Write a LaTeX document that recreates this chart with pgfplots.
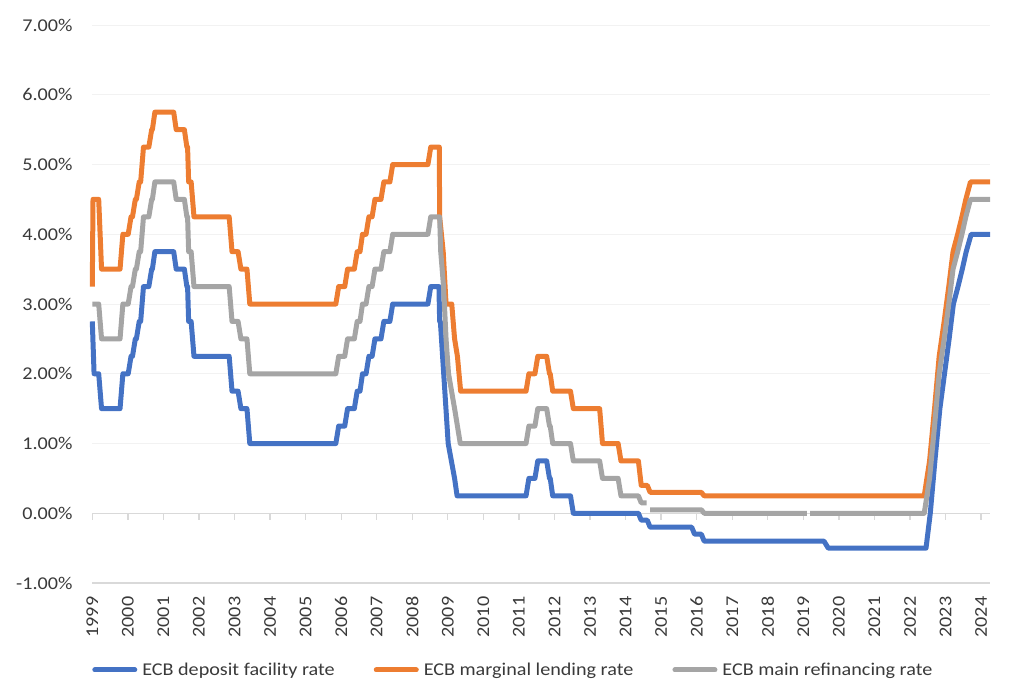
\documentclass[border=0pt]{standalone}
\usepackage{fontspec}
\setmainfont{Carlito}[FakeStretch=1.12]
\usepackage{pgfplots}
\usepackage{pgfplotstable}
\pgfplotsset{compat=1.18}

\definecolor{dfblue}{HTML}{4472C4}
\definecolor{mlforange}{HTML}{ED7D31}
\definecolor{mrogray}{HTML}{A5A5A5}
\definecolor{axisgray}{HTML}{D9D9D9}
\definecolor{txt}{HTML}{3A3A3A}

% deposit facility rate
\pgfplotstableread{
x y
1999.00 2.75
1999.05 2.00
1999.18 2.00
1999.26 1.50
1999.78 1.50
1999.86 2.00
2000.01 2.00
2000.09 2.25
2000.13 2.25
2000.21 2.50
2000.24 2.50
2000.32 2.75
2000.36 2.75
2000.44 3.25
2000.59 3.25
2000.67 3.50
2000.69 3.50
2000.76 3.75
2001.29 3.75
2001.36 3.50
2001.59 3.50
2001.66 3.25
2001.68 3.25
2001.71 2.75
2001.78 2.75
2001.86 2.25
2002.85 2.25
2002.93 1.75
2003.10 1.75
2003.18 1.50
2003.35 1.50
2003.43 1.00
2005.85 1.00
2005.93 1.25
2006.10 1.25
2006.18 1.50
2006.37 1.50
2006.45 1.75
2006.53 1.75
2006.60 2.00
2006.70 2.00
2006.78 2.25
2006.87 2.25
2006.95 2.50
2007.12 2.50
2007.20 2.75
2007.37 2.75
2007.45 3.00
2008.44 3.00
2008.52 3.25
2008.75 3.25
2008.77 2.75
2008.79 2.75
2009.01 1.00
2009.19 0.50
2009.26 0.25
2011.20 0.25
2011.28 0.50
2011.45 0.50
2011.53 0.75
2011.78 0.75
2011.86 0.50
2011.88 0.50
2011.95 0.25
2012.45 0.25
2012.53 0.00
2014.36 0.00
2014.44 -0.10
2014.61 -0.10
2014.69 -0.20
2015.86 -0.20
2015.94 -0.30
2016.13 -0.30
2016.21 -0.40
2019.58 -0.40
2019.70 -0.50
2022.45 -0.50
2022.57 0.00
2022.70 0.75
2022.84 1.50
2022.97 2.00
2023.10 2.50
2023.22 3.00
2023.35 3.25
2023.47 3.50
2023.58 3.75
2023.72 4.00
2024.25 4.00
}\dfrate

% marginal lending rate
\pgfplotstableread{
x y
1999.00 3.25
1999.02 4.50
1999.18 4.50
1999.26 3.50
1999.78 3.50
1999.86 4.00
2000.01 4.00
2000.09 4.25
2000.13 4.25
2000.21 4.50
2000.24 4.50
2000.32 4.75
2000.36 4.75
2000.44 5.25
2000.59 5.25
2000.67 5.50
2000.69 5.50
2000.76 5.75
2001.29 5.75
2001.36 5.50
2001.59 5.50
2001.66 5.25
2001.68 5.25
2001.71 4.75
2001.78 4.75
2001.86 4.25
2002.85 4.25
2002.93 3.75
2003.10 3.75
2003.18 3.50
2003.35 3.50
2003.43 3.00
2005.85 3.00
2005.93 3.25
2006.10 3.25
2006.18 3.50
2006.37 3.50
2006.45 3.75
2006.53 3.75
2006.60 4.00
2006.70 4.00
2006.78 4.25
2006.87 4.25
2006.95 4.50
2007.12 4.50
2007.20 4.75
2007.37 4.75
2007.45 5.00
2008.44 5.00
2008.52 5.25
2008.76 5.25
2008.77 4.25
2008.87 3.75
2008.95 3.00
2009.11 3.00
2009.19 2.50
2009.27 2.25
2009.36 1.75
2011.20 1.75
2011.28 2.00
2011.45 2.00
2011.53 2.25
2011.78 2.25
2011.86 2.00
2011.88 2.00
2011.95 1.75
2012.45 1.75
2012.53 1.50
2013.27 1.50
2013.35 1.00
2013.79 1.00
2013.87 0.75
2014.36 0.75
2014.44 0.40
2014.61 0.40
2014.69 0.30
2016.13 0.30
2016.21 0.25
2022.40 0.25
2022.55 0.75
2022.69 1.50
2022.82 2.25
2022.96 2.75
2023.09 3.25
2023.21 3.75
2023.34 4.00
2023.46 4.25
2023.57 4.50
2023.70 4.75
2024.25 4.75
}\mlfrate

% main refinancing rate
\pgfplotstableread{
x y
1999.00 3.00
1999.18 3.00
1999.26 2.50
1999.78 2.50
1999.86 3.00
2000.01 3.00
2000.09 3.25
2000.13 3.25
2000.21 3.50
2000.24 3.50
2000.32 3.75
2000.36 3.75
2000.44 4.25
2000.59 4.25
2000.67 4.50
2000.69 4.50
2000.76 4.75
2001.29 4.75
2001.36 4.50
2001.59 4.50
2001.66 4.25
2001.68 4.25
2001.71 3.75
2001.78 3.75
2001.86 3.25
2002.85 3.25
2002.93 2.75
2003.10 2.75
2003.18 2.50
2003.35 2.50
2003.43 2.00
2005.85 2.00
2005.93 2.25
2006.10 2.25
2006.18 2.50
2006.37 2.50
2006.45 2.75
2006.53 2.75
2006.60 3.00
2006.70 3.00
2006.78 3.25
2006.87 3.25
2006.95 3.50
2007.12 3.50
2007.20 3.75
2007.37 3.75
2007.45 4.00
2008.44 4.00
2008.52 4.25
2008.77 4.25
2008.80 3.75
2008.88 3.25
2008.95 2.50
2009.02 2.00
2009.19 1.50
2009.27 1.25
2009.35 1.00
2011.20 1.00
2011.28 1.25
2011.45 1.25
2011.53 1.50
2011.78 1.50
2011.86 1.25
2011.88 1.25
2011.95 1.00
2012.45 1.00
2012.53 0.75
2013.27 0.75
2013.35 0.50
2013.79 0.50
2013.87 0.25
2014.36 0.25
2014.44 0.15
2014.59 0.15
2014.64 nan
2014.69 0.05
2016.13 0.05
2016.21 0.00
2019.10 0.00
2019.14 nan
2019.19 0.00
2022.40 0.00
2022.55 0.50
2022.69 1.25
2022.82 2.00
2022.96 2.50
2023.09 3.00
2023.21 3.50
2023.34 3.75
2023.46 4.00
2023.57 4.25
2023.70 4.50
2024.25 4.50
}\mrorate

\begin{document}
\begin{tikzpicture}
\begin{axis}[
  scale only axis,
  width=897.7pt, height=558pt,
  xmin=1999, xmax=2024.25,
  ymin=-1, ymax=7,
  clip=false,
  axis line style={draw=none},
  major tick length=0pt,
  xtick={1999,2000,...,2024},
  ytick={-1,0,...,7},
  ymajorgrids,
  major grid style={color=black!5, line width=1pt},
  tick label style={font=\fontsize{18}{21}\selectfont, text=txt, inner sep=0pt},
  /pgf/number format/assume math mode=true,
  xticklabel={\pgfmathprintnumber[1000 sep={},precision=0]{\tick}},
  xticklabel style={rotate=90, anchor=east},
  xticklabel shift=13.5pt,
  yticklabel={\pgfmathprintnumber[fixed,fixed zerofill,precision=2]{\tick}\%},
  yticklabel shift=19.6pt,
  unbounded coords=jump,
  every axis plot/.append style={line width=5pt, line join=round},
  legend columns=3,
  legend image code/.code={\draw[#1,line cap=round] (2.5pt,0pt) -- (42.5pt,0pt);},
  legend style={draw=none, fill=none, at={(0,-0.1559)}, anchor=west,
    inner sep=0pt, outer sep=0pt,
    font=\fontsize{18}{21}\selectfont, text=txt,
    nodes={inner sep=0pt},
    /tikz/every odd column/.append style={column sep=5pt},
    /tikz/every even column/.append style={column sep=39pt}},
]
\draw[axisgray, line width=1.3pt] (axis cs:1999,-1) -- (axis cs:2024.25,-1);
\draw[axisgray, line width=1.3pt] (axis cs:1999,0) -- (axis cs:2024.25,0);
\pgfplotsinvokeforeach{1999,2000,...,2024}{
  \draw[axisgray, line width=1.3pt] (axis cs:#1,0) -- ([yshift=-6.5pt]axis cs:#1,0);
}
\addplot[color=dfblue] table {\dfrate};
\addlegendentry{ECB deposit facility rate}
\addplot[color=mlforange] table {\mlfrate};
\addlegendentry{ECB marginal lending rate}
\addplot[color=mrogray] table {\mrorate};
\addlegendentry{ECB main refinancing rate}
\end{axis}
\pgfresetboundingbox
\path (-92.3pt,-100pt) rectangle (931.7pt,583pt);
\end{tikzpicture}
\end{document}
